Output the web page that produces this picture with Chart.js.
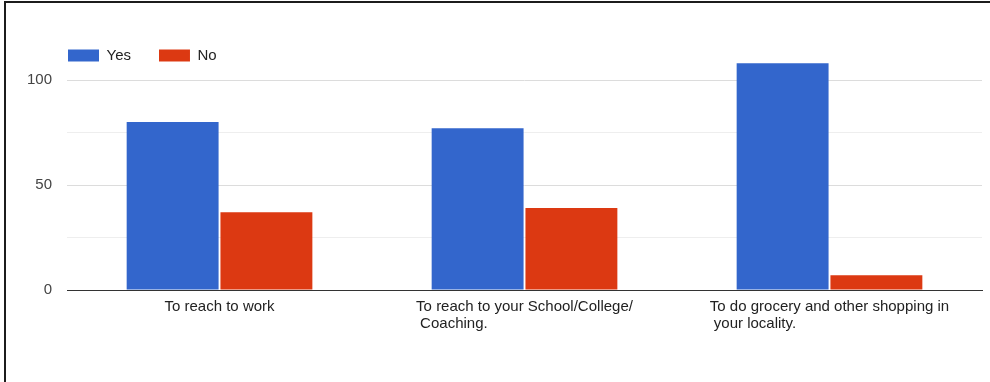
<!DOCTYPE html>
<html>
<head>
<meta charset="utf-8">
<script src="https://cdn.jsdelivr.net/npm/chart.js@4/dist/chart.umd.min.js"></script>
<style>
  html, body { margin: 0; padding: 0; background: #fff; }
  #frame {
    position: absolute; left: 4px; top: 1px; width: 986px; height: 381px;
    border-top: 2px solid #1c1c1c; border-left: 2px solid #1c1c1c;
    box-sizing: border-box;
  }
  #chart { position: absolute; left: 0; top: 0; }
</style>
</head>
<body>
<div id="frame"></div>
<canvas id="chart" width="990" height="382"></canvas>
<script>
// Purposes for travelling, answered Yes / No
const categories = [
  ["To reach to work"],
  ["To reach to your School/College/", "Coaching."],
  ["To do grocery and other shopping in", "your locality."]
];
const yesValues = [80, 77, 108];
const noValues = [37, 39, 7];
const yTickLabels = [0, 50, 100];

const FONT = "'Liberation Sans', Arial, sans-serif";

// Category labels: first line centred under the group, following lines start at its left edge
const wrappedLabels = {
  id: 'wrappedLabels',
  afterDraw(chart) {
    const ctx = chart.ctx;
    const xScale = chart.scales.x;
    const base = chart.chartArea.bottom;
    ctx.save();
    ctx.font = '15px ' + FONT;
    ctx.fillStyle = '#222';
    ctx.textBaseline = 'middle';
    ctx.textAlign = 'left';
    categories.forEach((lines, i) => {
      const cx = xScale.getPixelForTick(i);
      const x0 = cx - ctx.measureText(lines[0]).width / 2;
      lines.forEach((line, j) => {
        ctx.fillText(line, x0 + (j > 0 ? 4 : 0), base + 17 + j * 16.5);
      });
    });
    ctx.restore();
  }
};

// Legend sits in line with the plot's left edge and keeps a gap below it
const legendPlacement = {
  id: 'legendPlacement',
  beforeLayout(chart) {
    const legend = chart.legend;
    if (legend && !legend._gapAdded) {
      const fit = legend.fit;
      legend.fit = function () {
        fit.call(this);
        this.height += 7;
      };
      legend._gapAdded = true;
    }
  },
  afterLayout(chart) {
    if (chart.legend) {
      chart.legend.left += 28;
      chart.legend.right += 28;
    }
  }
};

new Chart(document.getElementById('chart'), {
  type: 'bar',
  data: {
    labels: categories.map(l => l.join(' ')),
    datasets: [
      { label: 'Yes', data: yesValues, backgroundColor: '#3366cc', clip: false },
      { label: 'No', data: noValues, backgroundColor: '#dc3912', clip: false }
    ]
  },
  options: {
    responsive: false,
    animation: false,
    categoryPercentage: 0.615,
    barPercentage: 0.98,
    layout: { padding: { left: 12, right: 8, top: 20, bottom: 92 } },
    plugins: {
      tooltip: { enabled: false },
      legend: {
        position: 'top',
        align: 'start',
        labels: {
          boxWidth: 31,
          boxHeight: 12,
          padding: 28,
          color: '#222',
          font: { family: FONT, size: 15 }
        }
      }
    },
    scales: {
      x: {
        grid: { display: false, drawTicks: false },
        border: { display: true, color: '#333', width: 1 },
        ticks: { display: false }
      },
      y: {
        min: 0,
        max: 100,
        border: { display: false },
        grid: {
          drawTicks: false,
          color: ctx => {
            const v = ctx.tick ? ctx.tick.value : 0;
            if (v === 0) return '#333';
            return v % 50 === 0 ? '#dcdcdc' : '#eeeeee';
          }
        },
        ticks: {
          stepSize: 25,
          padding: 15,
          color: '#444',
          font: { family: FONT, size: 15 },
          callback: v => (yTickLabels.includes(v) ? String(v) : '')
        }
      }
    }
  },
  plugins: [wrappedLabels, legendPlacement]
});
</script>
</body>
</html>
